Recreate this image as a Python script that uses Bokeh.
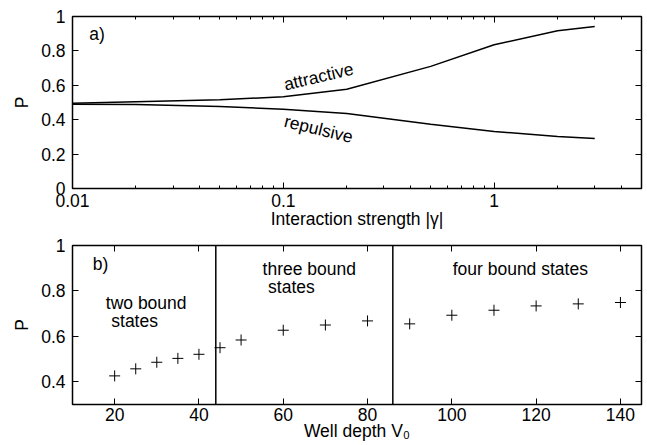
from bokeh.plotting import figure
from bokeh.layouts import column
from bokeh.models import (FixedTicker, LogAxis, LinearAxis, Span, Label,
                          CustomJSTickFormatter, Range1d)
from bokeh.embed import file_html
from bokeh.resources import INLINE

# ---------------- data ----------------
# panel a)
gamma = [0.01, 0.02, 0.05, 0.1, 0.2, 0.5, 1, 2, 3]
p_attractive = [0.496, 0.505, 0.516, 0.533, 0.577, 0.710, 0.836, 0.917, 0.942]
p_repulsive = [0.490, 0.488, 0.477, 0.461, 0.436, 0.373, 0.332, 0.303, 0.291]

# panel b)
v0 = [20, 25, 30, 35, 40, 45, 50, 60, 70, 80, 90, 100, 110, 120, 130, 140]
p_well = [0.426, 0.457, 0.486, 0.503, 0.521, 0.550, 0.584, 0.627, 0.650,
          0.668, 0.655, 0.693, 0.715, 0.734, 0.743, 0.749]
state_boundaries = [44, 86]

# tick labels
a_xticks = [0.01, 0.1, 1]
a_xminor = [m * d for d in (0.01, 0.1) for m in range(2, 10)] + [2, 3, 4, 5]
a_yticks = [0, 0.2, 0.4, 0.6, 0.8, 1]
b_xticks = [20, 40, 60, 80, 100, 120, 140]
b_yticks = [0.4, 0.6, 0.8, 1]

FONT = "Liberation Sans"
FS = "17.5px"

fmt_code = "return String(Math.round(tick*100)/100)"


def style_axis(ax, labels=True):
    ax.axis_line_color = None
    ax.major_tick_in = 6
    ax.major_tick_out = 0
    ax.minor_tick_in = 3
    ax.minor_tick_out = 0
    ax.major_tick_line_color = "black"
    ax.minor_tick_line_color = "black"
    ax.major_tick_line_width = 1
    ax.minor_tick_line_width = 1
    ax.major_label_text_font = FONT
    ax.major_label_text_font_size = FS
    ax.major_label_text_color = "black"
    ax.axis_label_text_font = FONT
    ax.axis_label_text_font_size = FS
    ax.axis_label_text_font_style = "normal"
    ax.axis_label_text_color = "black"
    if labels:
        ax.formatter = CustomJSTickFormatter(code=fmt_code)
    else:
        ax.formatter = CustomJSTickFormatter(code="return ''")
        ax.major_label_text_font_size = "0px"
        ax.major_label_standoff = 0


def style_fig(p):
    p.outline_line_color = "black"
    p.outline_line_width = 1.5
    p.outline_line_alpha = 1
    p.xgrid.visible = False
    p.ygrid.visible = False
    p.background_fill_color = "white"
    p.border_fill_color = "white"


def add_label(p, x, y, text, align="left", angle=0.0):
    p.add_layout(Label(x=x, y=y, text=text, angle=angle,
                       text_font=FONT, text_font_size=FS, text_color="black",
                       text_align=align, text_baseline="middle"))


# ---------------- panel a ----------------
p1 = figure(width=647, height=232, x_axis_type="log",
            x_range=Range1d(0.01, 5), y_range=Range1d(0, 1),
            output_backend="svg", toolbar_location=None,
            min_border_left=72, min_border_right=6,
            min_border_top=16, min_border_bottom=44)
style_fig(p1)

xt = FixedTicker(ticks=a_xticks, minor_ticks=a_xminor)
yt = FixedTicker(ticks=a_yticks, minor_ticks=[])

p1.xaxis.ticker = xt
p1.yaxis.ticker = yt
for ax in p1.xaxis:
    style_axis(ax)
    ax.major_label_standoff = 5
    ax.axis_label_standoff = -1
    ax.axis_label = "Interaction strength |γ|"
for ax in p1.yaxis:
    style_axis(ax)
    ax.major_label_standoff = 7
    ax.axis_label_standoff = 6
    ax.axis_label = "P"

top1 = LogAxis(ticker=xt)
style_axis(top1, labels=False)
p1.add_layout(top1, "above")
right1 = LinearAxis(ticker=yt)
style_axis(right1, labels=False)
p1.add_layout(right1, "right")

p1.line(gamma, p_attractive, line_color="black", line_width=1.5)
p1.line(gamma, p_repulsive, line_color="black", line_width=1.5)

add_label(p1, 0.012, 0.9, "a)")
add_label(p1, 0.147, 0.651, "attractive", align="center", angle=0.23)
add_label(p1, 0.147, 0.346, "repulsive", align="center", angle=-0.24)

# ---------------- panel b ----------------
p2 = figure(width=647, height=213,
            x_range=Range1d(10, 145), y_range=Range1d(0.3, 1),
            output_backend="svg", toolbar_location=None,
            min_border_left=72, min_border_right=6,
            min_border_top=13, min_border_bottom=41)
style_fig(p2)

xt2 = FixedTicker(ticks=b_xticks, minor_ticks=[])
yt2 = FixedTicker(ticks=b_yticks, minor_ticks=[])
p2.xaxis.ticker = xt2
p2.yaxis.ticker = yt2
for ax in p2.xaxis:
    style_axis(ax)
    ax.major_label_standoff = 3
    ax.axis_label_standoff = -3
    ax.axis_label = "Well depth V₀"
for ax in p2.yaxis:
    style_axis(ax)
    ax.major_label_standoff = 7
    ax.axis_label_standoff = 6
    ax.axis_label = "P"

top2 = LinearAxis(ticker=xt2)
style_axis(top2, labels=False)
p2.add_layout(top2, "above")
right2 = LinearAxis(ticker=yt2)
style_axis(right2, labels=False)
p2.add_layout(right2, "right")

for b in state_boundaries:
    p2.add_layout(Span(location=b, dimension="height", line_color="black",
                       line_width=1.5))

p2.scatter(v0, p_well, marker="cross", size=11, line_color="black", line_width=1)

for txt, x, y in [("b)", 14.8, 0.919),
                  ("two bound", 17.9, 0.746), ("states", 19.2, 0.669),
                  ("three bound", 55.1, 0.898), ("states", 56.4, 0.816),
                  ("four bound states", 100.2, 0.898)]:
    add_label(p2, x, y, txt)

layout = column(p1, p2, spacing=0)
open("out.html", "w").write(file_html(layout, INLINE))
